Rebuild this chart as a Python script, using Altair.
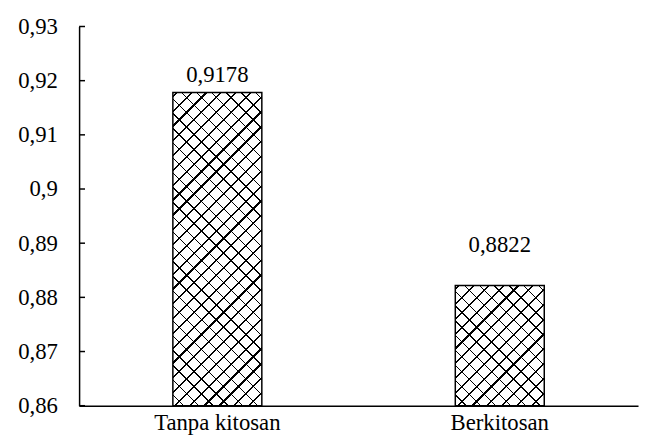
import math
import altair as alt
import pandas as pd

# ---- data ----
categories = ["Tanpa kitosan", "Berkitosan"]
values = [0.9178, 0.8822]
y_ticks = [0.86, 0.87, 0.88, 0.89, 0.90, 0.91, 0.92, 0.93]

# ---- styles ----
W, H = 566, 384
PAD = {"left": 72, "top": 16, "right": 2, "bottom": 32}
FONT = "Liberation Serif"
FS = 23
label_dy = [-11, -34]
BAND_INNER, BAND_OUTER = 0.685, 0.332
HATCH = 15.0      # spacing of hatch lines along x+y (px)
LINE_A = 1.6      # thickness of "/" lines
LINE_B = 1.0      # thickness of "\" lines

df = pd.DataFrame({"cat": categories, "value": values})
ticks_df = pd.DataFrame({"tick": y_ticks})
ymin, ymax = min(y_ticks), max(y_ticks)

step = W / (len(categories) - BAND_INNER + 2 * BAND_OUTER)
bw = step * (1 - BAND_INNER)


def stripes(w, h, direction, bg, fg, thick, phase=0.0):
    span = w + h
    a = w * span / (w * w + h * h)
    b = a * h / w
    if direction == "up":
        coords = {"x1": 0, "y1": 0, "x2": a, "y2": b}
    else:
        coords = {"x1": 0, "y1": 1, "x2": a, "y2": 1 - b}
    hw = thick * math.sqrt(2) / 2 / span
    stops = [{"offset": 0, "color": bg}]
    k = 0
    while True:
        c = (k * HATCH + phase) / span
        if c - hw > 1:
            break
        s = max(0.0, c - hw)
        e = min(1.0, c + hw)
        if e > s:
            stops += [
                {"offset": s, "color": bg},
                {"offset": s, "color": fg},
                {"offset": e, "color": fg},
                {"offset": e, "color": bg},
            ]
        k += 1
    stops.append({"offset": 1, "color": bg})
    return dict(gradient="linear", stops=stops, **coords)


yscale = alt.Scale(domain=[ymin, ymax], nice=False, zero=False)
yaxis = alt.Axis(
    values=y_ticks, title=None, ticks=False, grid=False,
    domainColor="black", domainWidth=1.5,
    labelExpr="replace(format(datum.value, '.2~f'), '.', ',')",
    labelFont=FONT, labelFontSize=FS, labelPadding=22, labelColor="black",
)
xscale = alt.Scale(domain=categories, paddingInner=BAND_INNER, paddingOuter=BAND_OUTER)
xaxis = alt.Axis(
    title=None, labelAngle=0, ticks=False, grid=False,
    domainColor="black", domainWidth=1.5,
    labelFont=FONT, labelFontSize=FS, labelPadding=6, labelColor="black",
)

X = alt.X("cat:N", scale=xscale, axis=xaxis, sort=categories)
Y = alt.Y("value:Q", scale=yscale, axis=yaxis)

layers = []
for i, (c, v) in enumerate(zip(categories, values)):
    h = (v - ymin) / (ymax - ymin) * H
    base = alt.Chart(df).transform_filter(alt.datum.cat == c)
    gA = stripes(bw, h, "up", "white", "black", LINE_A, phase=4)
    gB = stripes(bw, h, "down", "rgba(0,0,0,0)", "black", LINE_B, phase=11)
    layers.append(base.mark_bar(fill=gA, strokeWidth=0).encode(x=X, y=Y, y2=alt.datum(ymin)))
    layers.append(base.mark_bar(fill=gB, stroke="black", strokeWidth=1.5).encode(x=X, y=Y, y2=alt.datum(ymin)))
    layers.append(
        base.transform_calculate(label="replace(format(datum.value, '.4f'), '.', ',')")
        .mark_text(dy=label_dy[i], baseline="alphabetic", font=FONT, fontSize=FS, color="black")
        .encode(x=X, y=Y, text="label:N")
    )

ticks = alt.Chart(ticks_df).mark_rule(color="black", strokeWidth=1.5).encode(
    y=alt.Y("tick:Q", scale=yscale, axis=yaxis), x=alt.value(0), x2=alt.value(6)
)
layers.append(ticks)

chart = (
    alt.layer(*layers)
    .properties(width=W, height=H, padding=PAD, autosize=alt.AutoSizeParams(type="none"),
                background="white")
    .configure_view(stroke=None)
)

chart.save("out.html", embed_options={"renderer": "svg", "actions": False})
